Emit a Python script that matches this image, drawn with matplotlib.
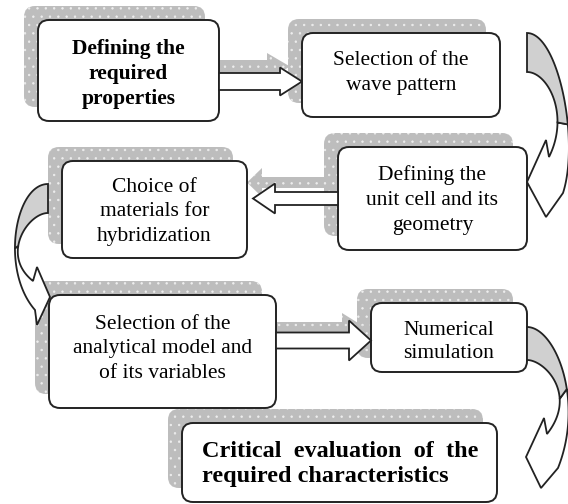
import numpy as np
import matplotlib.pyplot as plt
from matplotlib.patches import FancyBboxPatch, FancyArrow, Polygon

plt.rcParams['font.family'] = ['Liberation Serif', 'DejaVu Serif']
plt.rcParams['hatch.linewidth'] = 0.5

# steps of the flow, in reading order
steps = [
    "Defining the\nrequired\nproperties",
    "Selection of the\nwave pattern",
    "Defining the\nunit cell and its\ngeometry",
    "Choice of\nmaterials for\nhybridization",
    "Selection of the\nanalytical model and\nof its variables",
    "Numerical\nsimulation",
    "Critical  evaluation  of  the\nrequired characteristics",
]
bold_steps = [0, 6]

# layout in pixels (y down): white box x0, y0, x1, y1
boxes = [
    (38, 20, 219, 121),
    (302, 33, 500, 117),
    (338, 147, 527, 250),
    (62, 161, 247, 258),
    (49, 295, 276, 408),
    (371, 303, 527, 372),
    (182, 423, 497, 502),
]
text_y = [74, 73, 200, 212, 349, 342, 464]
line_sp = [1.32, 1.45, 1.45, 1.38, 1.4, 1.3, 1.25]
shadow_shift = 14

# straight arrows: x start, x end, y centre, body width, head width, head length
white_arrows = [
    (219, 302, 81.5, 17, 28, 22),
    (338, 253, 198.5, 13, 30, 22),
    (276, 371, 340.5, 16, 40, 22),
]
grey_arrows = [
    (203, 290, 66.5, 13, 27, 23),
    (324, 247, 182.5, 11, 29, 15),
    (262, 367, 328.5, 13, 31, 25),
]

# curved arrows: outer bezier, inner bezier, head (outer barb, tip, inner barb), split
curved = [
    ([(527, 33), (558, 33), (580, 140), (563, 193)],
     [(527, 72), (548, 72), (570, 115), (549, 157)],
     [(546, 217), (527, 182), (546, 140)], (0.65, 0.72)),
    ([(48, 184), (15, 184), (0, 270), (35, 310)],
     [(48, 213), (28, 213), (0, 255), (33, 281)],
     [(37, 325), (50, 297), (37, 267)], (0.6, 0.6)),
    ([(527, 327), (555, 327), (585, 400), (558, 468)],
     [(527, 360), (545, 360), (578, 395), (547, 434)],
     [(541, 488), (526, 457), (544, 418)], (0.6, 0.68)),
]

shadow_col = "#bdbdbd"
curve_col = "#d0d0d0"


def bez(pts, t):
    p = np.array(pts, dtype=float)
    t = np.asarray(t)[:, None]
    return ((1 - t) ** 3 * p[0] + 3 * (1 - t) ** 2 * t * p[1]
            + 3 * (1 - t) * t ** 2 * p[2] + t ** 3 * p[3])


fig = plt.figure(figsize=(5.68, 5.04), dpi=100)
ax = fig.add_axes([0, 0, 1, 1])
ax.set_xlim(0, 568)
ax.set_ylim(504, 0)
ax.axis("off")

# shadows behind the boxes
for x0, y0, x1, y1 in boxes:
    s = shadow_shift
    ax.add_patch(FancyBboxPatch((x0 - s, y0 - s), x1 - x0, y1 - y0,
                                boxstyle="round,pad=0,rounding_size=11",
                                fc=shadow_col, ec="#eeeeee", lw=0, hatch="..",
                                zorder=1))

# grey shadow arrows
for xs, xe, yc, w, hw, hl in grey_arrows:
    ax.add_patch(FancyArrow(xs, yc, xe - xs, 0, width=w, head_width=hw,
                            head_length=hl, length_includes_head=True,
                            fc=shadow_col, ec="#eeeeee", lw=0, hatch="..",
                            zorder=1.5))

# white boxes with text
for i, (x0, y0, x1, y1) in enumerate(boxes):
    ax.add_patch(FancyBboxPatch((x0, y0), x1 - x0, y1 - y0,
                                boxstyle="round,pad=0,rounding_size=11",
                                fc="white", ec="#222222", lw=1.4, zorder=2))
    if i == 6:
        ax.text(x0 + 20, text_y[i], steps[i], ha="left", va="center",
                fontsize=17.5, fontweight="bold", linespacing=line_sp[i],
                zorder=4)
    else:
        ax.text((x0 + x1) / 2, text_y[i], steps[i], ha="center", va="center",
                multialignment="center", fontsize=15.5,
                fontweight="bold" if i in bold_steps else "normal",
                linespacing=line_sp[i], zorder=4)

# white block arrows
for xs, xe, yc, w, hw, hl in white_arrows:
    ax.add_patch(FancyArrow(xs, yc, xe - xs, 0, width=w, head_width=hw,
                            head_length=hl, length_includes_head=True,
                            fc="white", ec="#222222", lw=1.3, zorder=3))

# curved arrows: grey back part, white front part with head
for outer, inner, head, (so, si) in curved:
    back = np.vstack([bez(outer, np.linspace(0, so, 40)),
                      bez(inner, np.linspace(0, si, 40))[::-1]])
    front = np.vstack([bez(outer, np.linspace(so, 1, 40)),
                       np.array(head),
                       bez(inner, np.linspace(si, 1, 40))[::-1]])
    ax.add_patch(Polygon(front, closed=True, fc="white", ec="#222222",
                         lw=1.3, joinstyle="miter", zorder=3))
    ax.add_patch(Polygon(back, closed=True, fc=curve_col, ec="#222222",
                         lw=1.3, zorder=3.5))

fig.savefig("out.png", dpi=100, facecolor="white")
